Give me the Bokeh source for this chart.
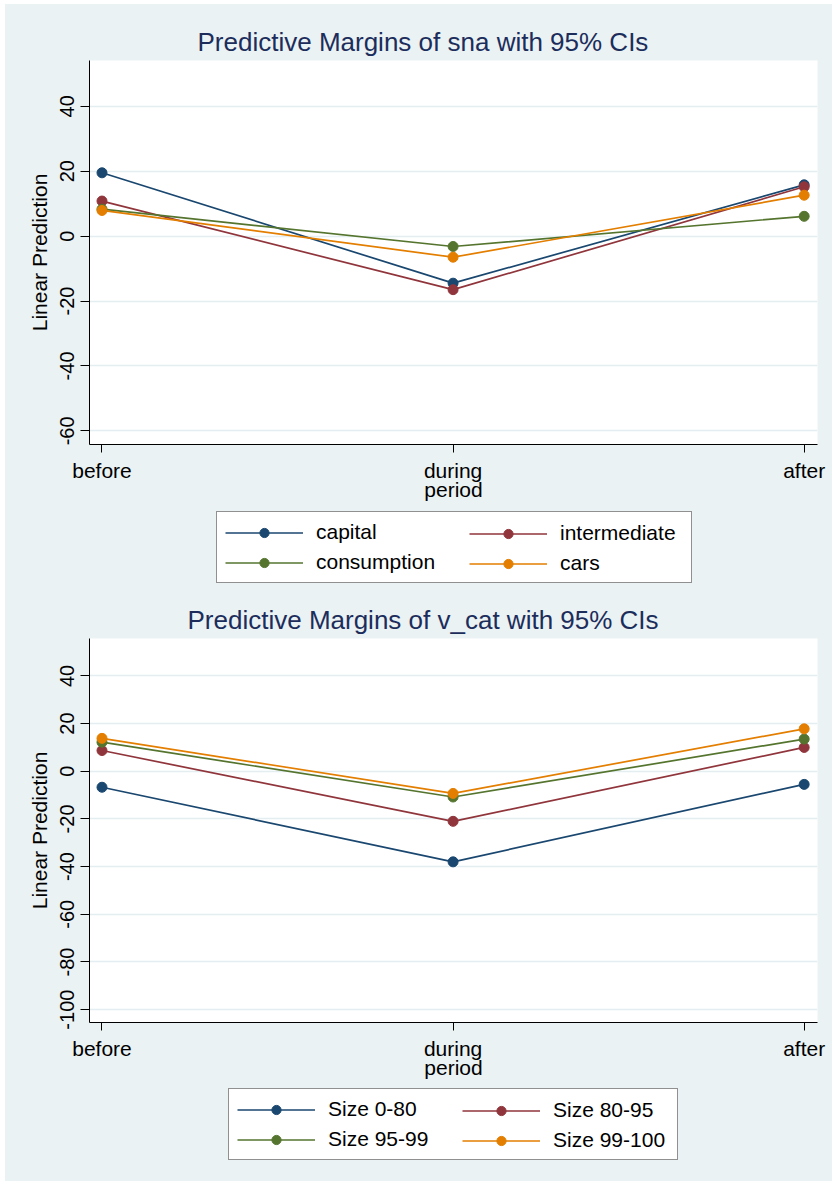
from bokeh.plotting import figure
from bokeh.models import Range1d, FixedTicker, Legend, LegendItem
from bokeh.layouts import column
from bokeh.embed import file_html
from bokeh.resources import INLINE

# ---------------- data ----------------
periods = ["before", "during", "after"]

sna_names = ["capital", "intermediate", "consumption", "cars"]
capital = [19.5, -14.5, 15.8]
intermediate = [10.8, -16.5, 15.2]
consumption = [8.3, -3.2, 6.1]
cars = [7.9, -6.5, 12.6]

vcat_names = ["Size 0-80", "Size 80-95", "Size 95-99", "Size 99-100"]
size_0_80 = [-6.7, -38.0, -5.5]
size_80_95 = [8.7, -21.0, 10.0]
size_95_99 = [12.2, -10.8, 13.5]
size_99_100 = [13.8, -9.3, 17.8]

top_ticks = [-60, -40, -20, 0, 20, 40]
top_tick_labels = ["-60", "-40", "-20", "0", "20", "40"]
bot_ticks = [-100, -80, -60, -40, -20, 0, 20, 40]
bot_tick_labels = ["-100", "-80", "-60", "-40", "-20", "0", "20", "40"]

colors = ["#1A476F", "#90353B", "#55752F", "#E37E00"]

BG = "#EAF2F3"
FONT = "Liberation Sans"
TITLE_COLOR = "#1c2d5c"
W = 827
BL, BR = 84, 15
XS = list(range(len(periods)))


def base_fig(height, top, bottom, yr, **kw):
    return figure(width=W, height=height,
                  x_range=Range1d(-0.0356, 2.038), y_range=Range1d(*yr),
                  output_backend="svg", toolbar_location=None,
                  min_border_left=BL, min_border_right=BR,
                  min_border_top=top, min_border_bottom=bottom,
                  border_fill_color=BG, outline_line_color=None,
                  styles={"background-color": BG}, **kw)


def make_panel(title, series, yr, ticks, tick_labels, height,
               top_border, bottom_border, title_offset):
    p = base_fig(height, top_border, bottom_border, yr,
                 background_fill_color="white")
    p.title.text = title
    p.title.text_font = FONT
    p.title.text_font_size = "26px"
    p.title.text_font_style = "normal"
    p.title.text_color = TITLE_COLOR
    p.title.align = "left"
    p.title.offset = title_offset
    p.title.standoff = 8

    for ys, c in zip(series, colors):
        p.line(XS, ys, line_color=c, line_width=1.7)
        p.scatter(XS, ys, size=10, fill_color=c, line_color=c)

    p.xaxis.ticker = FixedTicker(ticks=XS)
    p.xaxis.major_label_overrides = {i: s for i, s in enumerate(periods)}
    p.xaxis.axis_label = "period"
    p.yaxis.ticker = FixedTicker(ticks=ticks)
    p.yaxis.major_label_overrides = {t: s for t, s in zip(ticks, tick_labels)}
    p.yaxis.axis_label = "Linear Prediction"
    p.yaxis.major_label_orientation = "vertical"
    for ax in (p.xaxis[0], p.yaxis[0]):
        ax.axis_line_color = "black"
        ax.axis_line_width = 1
        ax.major_tick_line_color = "black"
        ax.major_tick_in = 0
        ax.minor_tick_line_color = None
        ax.major_label_text_font = FONT
        ax.major_label_text_color = "black"
        ax.axis_label_text_font = FONT
        ax.axis_label_text_font_style = "normal"
        ax.axis_label_text_color = "black"
    p.xaxis.major_tick_out = 8
    p.yaxis.major_tick_out = 9
    p.xaxis.major_label_text_font_size = "21px"
    p.yaxis.major_label_text_font_size = "20px"
    p.xaxis.axis_label_text_font_size = "21px"
    p.yaxis.axis_label_text_font_size = "21px"
    p.xaxis.major_label_standoff = 6
    p.xaxis.axis_label_standoff = -7
    p.yaxis.major_label_standoff = 6
    p.yaxis.axis_label_standoff = 7

    p.xgrid.visible = False
    p.ygrid.grid_line_color = "#e4edf0"
    p.ygrid.grid_line_width = 1.5
    return p


def make_legend(names, series, yr, height, box_bottom, l1_x, l1_w, l2_x):
    lf = base_fig(height, 0, 0, yr, background_fill_color=BG,
                  x_axis_location=None, y_axis_location=None)
    lf.grid.visible = False
    items = []
    for name, ys, c in zip(names, series, colors):
        r1 = lf.line(XS, ys, line_color=c, line_width=1.7, visible=False)
        r2 = lf.scatter(XS, ys, size=10, fill_color=c, line_color=c, visible=False)
        items.append(LegendItem(label=name, renderers=[r1, r2]))
    common = dict(glyph_width=78, glyph_height=23, label_height=23,
                  label_standoff=13, spacing=6, padding=8, margin=0,
                  label_text_font=FONT, label_text_font_size="21px",
                  label_text_color="black", orientation="vertical")
    lf.add_layout(Legend(items=[items[0], items[2]], location=(l1_x, box_bottom),
                         label_width=l1_w, border_line_color="#222222",
                         border_line_width=1, background_fill_color="white",
                         background_fill_alpha=1, **common), "center")
    lf.add_layout(Legend(items=[items[1], items[3]], location=(l2_x, box_bottom),
                         label_width=20, border_line_alpha=0,
                         background_fill_alpha=0, **common), "center")
    return lf


sna_series = [capital, intermediate, consumption, cars]
vcat_series = [size_0_80, size_80_95, size_95_99, size_99_100]

p1 = make_panel("Predictive Margins of sna with 95% CIs", sna_series,
                (-64.2, 54.1), top_ticks, top_tick_labels,
                506, 56, 66, 108)
lg1 = make_legend(sna_names, sna_series, (-64.2, 54.1), 88, 15, 127, 367, 372)
p2 = make_panel("Predictive Margins of v_cat with 95% CIs", vcat_series,
                (-105.4, 55.7), bot_ticks, bot_tick_labels,
                490, 40, 66, 98)
lg2 = make_legend(vcat_names, vcat_series, (-105.4, 55.7), 93, 21, 139, 341, 365)

layout = column(p1, lg1, p2, lg2, spacing=0, margin=(4, 0, 0, 5),
                styles={"background-color": BG})
open("out.html", "w").write(file_html(layout, INLINE))
